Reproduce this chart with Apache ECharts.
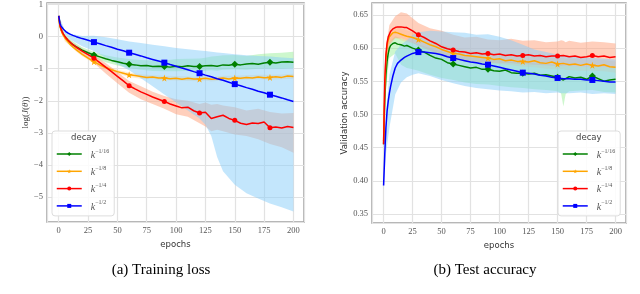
<!DOCTYPE html>
<html><head><meta charset="utf-8">
<script src="https://cdn.jsdelivr.net/npm/echarts@6/dist/echarts.min.js"></script>
<style>html,body{margin:0;padding:0;background:#fff}#c{width:640px;height:294px}</style>
</head><body><div id="c"></div>
<script>
// ---------- data ----------
const seriesNames = ['k16', 'k8', 'k4', 'k2'];
const legendFrac = {k16: '1/16', k8: '1/8', k4: '1/4', k2: '1/2'};
const markerEpochs = [30, 60, 90, 120, 150, 180];
const xTicks = [0, 25, 50, 75, 100, 125, 150, 175, 200];

// (a) training loss — line epochs
const lossEpochs = [0,1,2,3,4,6,8,10,12,15,20,25,30,35,40,45,50,55,60,65,70,75,80,85,90,95,100,105,110,115,120,125,130,135,140,145,150,155,160,165,170,175,180,185,190,195,200];
const lossK16 = [0.65,0.35,0.22,0.13,0.06,-0.04,-0.12,-0.19,-0.25,-0.32,-0.42,-0.50,-0.57,-0.63,-0.69,-0.74,-0.78,-0.83,-0.86,-0.88,-0.91,-0.90,-0.93,-0.92,-0.93,-0.95,-0.92,-0.94,-0.91,-0.93,-0.93,-0.91,-0.90,-0.92,-0.88,-0.89,-0.86,-0.88,-0.85,-0.84,-0.86,-0.82,-0.80,-0.82,-0.79,-0.78,-0.80];
const lossK8  = [0.65,0.33,0.20,0.10,0.03,-0.08,-0.17,-0.25,-0.32,-0.41,-0.55,-0.67,-0.78,-0.88,-0.96,-1.03,-1.09,-1.14,-1.19,-1.21,-1.24,-1.27,-1.26,-1.29,-1.29,-1.31,-1.30,-1.33,-1.30,-1.32,-1.32,-1.30,-1.33,-1.31,-1.29,-1.32,-1.29,-1.30,-1.27,-1.29,-1.26,-1.28,-1.27,-1.25,-1.27,-1.23,-1.24];
const lossK4  = [0.65,0.36,0.24,0.15,0.08,-0.03,-0.11,-0.18,-0.25,-0.33,-0.45,-0.56,-0.67,-0.81,-0.95,-1.09,-1.24,-1.38,-1.53,-1.63,-1.72,-1.80,-1.88,-1.95,-2.02,-2.10,-2.16,-2.22,-2.20,-2.31,-2.38,-2.36,-2.55,-2.50,-2.45,-2.55,-2.61,-2.70,-2.74,-2.69,-2.71,-2.66,-2.84,-2.82,-2.85,-2.80,-2.83];
const lossK2  = [0.65,0.42,0.33,0.27,0.23,0.16,0.11,0.07,0.04,0.00,-0.06,-0.11,-0.17,-0.22,-0.28,-0.33,-0.39,-0.44,-0.50,-0.55,-0.60,-0.66,-0.71,-0.76,-0.81,-0.87,-0.92,-0.98,-1.03,-1.09,-1.14,-1.20,-1.25,-1.31,-1.36,-1.42,-1.48,-1.53,-1.59,-1.64,-1.70,-1.75,-1.81,-1.86,-1.91,-1.97,-2.02];
// (a) spread bands
const lossBandEpochs = [0,5,10,15,20,30,40,50,60,70,80,90,100,110,120,125,130,135,140,150,160,170,180,190,200];
const lossK16Hi = [0.66,0.10,-0.10,-0.22,-0.33,-0.48,-0.58,-0.65,-0.70,-0.73,-0.74,-0.74,-0.70,-0.69,-0.68,-0.66,-0.62,-0.60,-0.58,-0.57,-0.60,-0.55,-0.52,-0.50,-0.47];
const lossK16Lo = [0.64,-0.05,-0.28,-0.40,-0.50,-0.66,-0.80,-0.90,-0.98,-1.03,-1.07,-1.08,-1.08,-1.07,-1.08,-1.06,-1.05,-1.06,-1.03,-1.02,-1.03,-1.00,-0.99,-1.00,-0.98];
const lossK8Hi  = [0.66,-0.06,-0.20,-0.35,-0.49,-0.72,-0.90,-1.03,-1.12,-1.17,-1.20,-1.22,-1.23,-1.24,-1.25,-1.24,-1.26,-1.24,-1.22,-1.22,-1.20,-1.19,-1.19,-1.18,-1.16];
const lossK8Lo  = [0.64,-0.14,-0.30,-0.47,-0.61,-0.84,-1.02,-1.15,-1.26,-1.31,-1.33,-1.36,-1.37,-1.38,-1.39,-1.37,-1.40,-1.38,-1.36,-1.36,-1.34,-1.33,-1.34,-1.33,-1.31];
const lossK4Hi  = [0.66,0.05,-0.12,-0.26,-0.38,-0.58,-0.82,-1.10,-1.38,-1.55,-1.72,-1.85,-1.95,-2.00,-2.10,-2.05,-2.12,-2.10,-2.15,-2.20,-2.30,-2.25,-2.35,-2.40,-2.38];
const lossK4Lo  = [0.64,-0.06,-0.28,-0.42,-0.56,-0.82,-1.15,-1.45,-1.75,-1.95,-2.10,-2.25,-2.42,-2.50,-2.70,-2.80,-2.95,-2.90,-2.95,-3.05,-3.10,-3.20,-3.35,-3.45,-3.62];
const lossK2Hi  = [0.66,0.22,0.10,0.05,0.02,0.03,-0.02,-0.08,-0.15,-0.20,-0.25,-0.30,-0.35,-0.39,-0.43,-0.45,-0.47,-0.49,-0.51,-0.55,-0.58,-0.60,-0.62,-0.65,-0.67];
const lossK2Lo  = [0.64,0.10,-0.10,-0.20,-0.30,-0.45,-0.65,-0.85,-1.05,-1.30,-1.55,-1.80,-2.05,-2.30,-2.55,-2.75,-3.10,-3.75,-4.20,-4.62,-4.88,-5.05,-5.20,-5.32,-5.45];

// (b) test accuracy — line epochs
const accEpochs = [0,1,2,3,4,5,6,8,10,12,15,18,20,25,30,35,40,45,50,55,60,65,70,75,80,85,90,95,100,105,110,115,120,125,130,135,140,145,150,155,160,165,170,175,180,185,190,195,200];
const accK16 = [0.455,0.520,0.560,0.580,0.592,0.600,0.604,0.607,0.608,0.606,0.605,0.603,0.604,0.600,0.597,0.594,0.589,0.585,0.583,0.578,0.576,0.574,0.572,0.570,0.571,0.568,0.568,0.566,0.565,0.567,0.563,0.562,0.562,0.561,0.562,0.559,0.560,0.558,0.556,0.552,0.557,0.555,0.556,0.553,0.558,0.554,0.550,0.552,0.553];
const accK8  = [0.460,0.540,0.585,0.603,0.612,0.617,0.620,0.623,0.624,0.623,0.621,0.619,0.618,0.616,0.613,0.609,0.605,0.602,0.598,0.595,0.592,0.591,0.589,0.588,0.587,0.586,0.585,0.583,0.584,0.581,0.582,0.580,0.580,0.579,0.581,0.578,0.577,0.579,0.576,0.577,0.575,0.576,0.574,0.576,0.574,0.573,0.575,0.572,0.571];
const accK4  = [0.455,0.550,0.590,0.608,0.617,0.621,0.625,0.629,0.631,0.632,0.632,0.631,0.631,0.626,0.620,0.616,0.611,0.607,0.602,0.599,0.597,0.595,0.594,0.592,0.593,0.591,0.592,0.590,0.591,0.589,0.590,0.588,0.589,0.590,0.588,0.589,0.587,0.588,0.588,0.589,0.587,0.588,0.586,0.587,0.589,0.587,0.588,0.586,0.587];
const accK2  = [0.393,0.440,0.480,0.505,0.520,0.532,0.542,0.558,0.570,0.577,0.582,0.586,0.588,0.592,0.594,0.594,0.593,0.592,0.590,0.587,0.585,0.583,0.581,0.579,0.578,0.576,0.575,0.573,0.571,0.569,0.567,0.565,0.563,0.562,0.561,0.559,0.558,0.556,0.555,0.554,0.554,0.553,0.553,0.552,0.552,0.551,0.550,0.549,0.549];
// (b) spread bands
const accBandEpochs = [0,2,5,10,15,20,25,30,40,50,60,70,80,90,100,110,120,130,140,150,153,155,157,160,170,180,190,200];
const accK16Hi = [0.460,0.570,0.610,0.618,0.615,0.612,0.609,0.606,0.600,0.595,0.590,0.587,0.585,0.584,0.582,0.580,0.578,0.577,0.576,0.574,0.574,0.573,0.573,0.573,0.572,0.572,0.571,0.570];
const accK16Lo = [0.450,0.540,0.585,0.592,0.575,0.570,0.568,0.566,0.560,0.555,0.552,0.548,0.546,0.545,0.543,0.541,0.540,0.538,0.537,0.535,0.532,0.512,0.531,0.535,0.536,0.537,0.534,0.533];
const accK8Hi  = [0.465,0.595,0.625,0.632,0.630,0.627,0.624,0.621,0.613,0.606,0.600,0.597,0.595,0.593,0.592,0.590,0.589,0.588,0.586,0.585,0.585,0.585,0.584,0.584,0.583,0.582,0.582,0.580];
const accK8Lo  = [0.455,0.575,0.609,0.616,0.612,0.609,0.607,0.605,0.597,0.590,0.584,0.581,0.579,0.577,0.576,0.574,0.572,0.571,0.569,0.568,0.568,0.568,0.567,0.567,0.566,0.566,0.565,0.563];
const accK4Hi  = [0.460,0.600,0.635,0.648,0.654,0.652,0.645,0.638,0.630,0.626,0.620,0.616,0.617,0.613,0.612,0.614,0.611,0.612,0.609,0.610,0.612,0.611,0.609,0.611,0.608,0.610,0.609,0.607];
const accK4Lo  = [0.450,0.570,0.605,0.615,0.615,0.612,0.608,0.603,0.596,0.588,0.582,0.580,0.579,0.578,0.577,0.577,0.576,0.575,0.574,0.573,0.573,0.573,0.573,0.573,0.572,0.572,0.571,0.570];
const accK2Hi  = [0.400,0.500,0.560,0.595,0.605,0.612,0.620,0.624,0.626,0.625,0.624,0.623,0.620,0.621,0.617,0.612,0.605,0.598,0.594,0.590,0.590,0.589,0.589,0.588,0.586,0.585,0.584,0.583];
const accK2Lo  = [0.385,0.440,0.480,0.530,0.548,0.556,0.560,0.562,0.558,0.552,0.547,0.543,0.540,0.538,0.536,0.535,0.533,0.534,0.532,0.533,0.532,0.532,0.532,0.532,0.533,0.531,0.532,0.531];

// ---------- styling ----------
const lineColors = {k16: '#008000', k8: '#ffa500', k4: '#ff0000', k2: '#0000ff'};
const bandColors = {k16: 'rgba(144,238,144,0.45)', k8: 'rgba(255,200,120,0.35)', k4: 'rgba(255,160,122,0.5)', k2: 'rgba(135,206,250,0.5)'};
const symbols = {k16: 'diamond', k8: 'path://M50,0 L61,35 L98,35 L68,57 L79,91 L50,70 L21,91 L32,57 L2,35 L39,35 Z', k4: 'circle', k2: 'rect'};
const symSizes = {k16: 7, k8: 7, k4: 5, k2: 6};

const serif = 'Liberation Serif';
const sans = 'DejaVu Sans';

function lineSeries(name, xi, xs, ys) {
  return {
    type: 'line', name, xAxisIndex: xi, yAxisIndex: xi, z: 3,
    data: xs.map((x, i) => markerEpochs.includes(x)
      ? {value: [x, ys[i]], symbol: symbols[name], symbolSize: symSizes[name]}
      : {value: [x, ys[i]], symbol: 'none'}),
    symbol: symbols[name], symbolSize: symSizes[name], showSymbol: true, showAllSymbol: true,
    itemStyle: {color: lineColors[name]},
    lineStyle: {color: lineColors[name], width: 1.5},
    emphasis: {disabled: true}, silent: true
  };
}
function bandSeries(name, xi, xs, lo, hi) {
  return {
    type: 'custom', xAxisIndex: xi, yAxisIndex: xi, z: 1, silent: true,
    data: xs.map((x, i) => [x, lo[i], hi[i]]),
    encode: {x: 0, y: [1, 2]},
    renderItem: (params, api) => {
      if (params.dataIndex !== 0) return null;
      const pts = [];
      for (let i = 0; i < xs.length; i++) pts.push(api.coord([xs[i], hi[i]]));
      for (let i = xs.length - 1; i >= 0; i--) pts.push(api.coord([xs[i], lo[i]]));
      return {type: 'polygon', shape: {points: pts}, style: {fill: bandColors[name]}};
    }
  };
}

function xAxis(gi) {
  return {
    type: 'value', gridIndex: gi, min: -10, max: 209, minInterval: 25, maxInterval: 25,
    name: 'epochs', nameLocation: 'middle', nameGap: 12,
    nameTextStyle: {fontFamily: sans, fontSize: 8.5, color: '#333'},
    axisLine: {show: false}, axisTick: {show: false},
    axisLabel: {margin: 4, fontFamily: serif, fontSize: 8.5, color: '#555',
      formatter: v => (Math.abs(v % 25) < 1e-6 && v >= 0) ? String(v) : ''},
    splitLine: {show: true, lineStyle: {color: '#e2e2e2', width: 1.2}}
  };
}

const chart = echarts.init(document.getElementById('c'), null, {renderer: 'canvas'});
const series = [];
const lossHi = {k16: lossK16Hi, k8: lossK8Hi, k4: lossK4Hi, k2: lossK2Hi};
const lossLo = {k16: lossK16Lo, k8: lossK8Lo, k4: lossK4Lo, k2: lossK2Lo};
const lossY = {k16: lossK16, k8: lossK8, k4: lossK4, k2: lossK2};
const accHi = {k16: accK16Hi, k8: accK8Hi, k4: accK4Hi, k2: accK2Hi};
const accLo = {k16: accK16Lo, k8: accK8Lo, k4: accK4Lo, k2: accK2Lo};
const accY = {k16: accK16, k8: accK8, k4: accK4, k2: accK2};
seriesNames.forEach(n => {
  series.push(bandSeries(n, 0, lossBandEpochs, lossLo[n], lossHi[n]));
  series.push(bandSeries(n, 1, accBandEpochs, accLo[n], accHi[n]));
});
seriesNames.forEach(n => {
  series.push(lineSeries(n, 0, lossEpochs, lossY[n]));
  series.push(lineSeries(n, 1, accEpochs, accY[n]));
});

function legend(left) {
  return {
    data: seriesNames, orient: 'vertical', left, top: 131,
    padding: [17, 5, 4, 4], itemGap: 5.3, itemWidth: 25, itemHeight: 5,
    backgroundColor: 'rgba(255,255,255,0.85)', borderColor: '#dddddd', borderWidth: 1, borderRadius: 3,
    selectedMode: false,
    lineStyle: {width: 1.5},
    formatter: n => '{k|k}{s|\u2212' + legendFrac[n] + '}',
    textStyle: {
      rich: {
        k: {fontFamily: serif, fontStyle: 'italic', fontSize: 10, color: '#555', padding: [0, 0, 0, 4], lineHeight: 12, verticalAlign: 'bottom'},
        s: {fontFamily: serif, fontSize: 6, color: '#555', lineHeight: 12, verticalAlign: 'top'}
      }
    }
  };
}

chart.setOption({
  animation: false,
  grid: [
    {left: 47, right: 336, top: 3, bottom: 72, show: true, borderColor: '#a0a0a0', borderWidth: 1.5, backgroundColor: '#fff'},
    {left: 372, right: 14, top: 3, bottom: 71, show: true, borderColor: '#a0a0a0', borderWidth: 1.5, backgroundColor: '#fff'}
  ],
  xAxis: [xAxis(0), xAxis(1)],
  yAxis: [
    {type: 'value', gridIndex: 0, min: -5.78, max: 1.05, minInterval: 1, maxInterval: 1,
     name: '{r|log(}{i|J}{r|(}{i|θ}{r|))}', nameLocation: 'middle', nameGap: 17,
     nameTextStyle: {fontFamily: serif, fontSize: 9, color: '#333',
       rich: {r: {fontFamily: serif, fontSize: 9, color: '#333'}, i: {fontFamily: serif, fontStyle: 'italic', fontSize: 9, color: '#333'}}},
     axisLine: {show: false}, axisTick: {show: false},
     axisLabel: {margin: 4, fontFamily: serif, fontSize: 8.5, color: '#555',
       formatter: v => Math.abs(v - Math.round(v)) < 1e-6 ? (v < 0 ? '\u2212' + Math.abs(Math.round(v)) : String(Math.round(v))) : ''},
     splitLine: {show: true, lineStyle: {color: '#e2e2e2', width: 1.2}}},
    {type: 'value', gridIndex: 1, min: 0.3364, max: 0.668, minInterval: 0.05, maxInterval: 0.05,
     name: 'Validation accuracy', nameLocation: 'middle', nameGap: 20,
     nameTextStyle: {fontFamily: sans, fontSize: 8.5, color: '#333'},
     axisLine: {show: false}, axisTick: {show: false},
     axisLabel: {margin: 4, fontFamily: serif, fontSize: 8.5, color: '#555',
       formatter: v => { const k = Math.round(v / 0.05); return Math.abs(v - k * 0.05) < 1e-6 ? v.toFixed(2) : ''; }},
     splitLine: {show: true, lineStyle: {color: '#e2e2e2', width: 1.2}}}
  ],
  legend: [legend(52), legend(558)],
  graphic: [
    {type: 'text', left: 71, top: 133, z: 100, style: {text: 'decay', font: '8.5px "DejaVu Sans"', fill: '#444'}},
    {type: 'text', left: 576, top: 133, z: 100, style: {text: 'decay', font: '8.5px "DejaVu Sans"', fill: '#444'}},
    {type: 'text', x: 161, y: 270, style: {text: '(a) Training loss', font: '15px "Liberation Serif"', fill: '#000', align: 'center', verticalAlign: 'middle'}},
    {type: 'text', x: 485, y: 270, style: {text: '(b) Test accuracy', font: '15px "Liberation Serif"', fill: '#000', align: 'center', verticalAlign: 'middle'}}
  ],
  series
});
</script></body></html>
